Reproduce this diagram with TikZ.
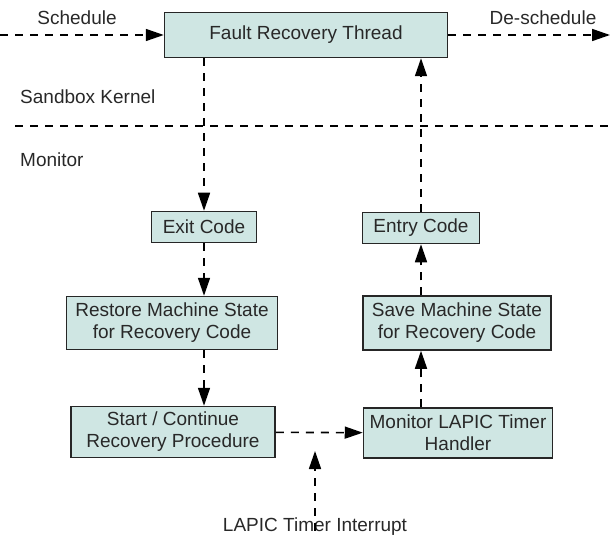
\documentclass[tikz,border=0pt]{standalone}
\usepackage{fontspec}
\setmainfont{Liberation Sans}
\usetikzlibrary{arrows.meta}
\definecolor{boxfill}{RGB}{207,230,227}
\definecolor{txt}{RGB}{40,40,40}

\begin{document}
\begin{tikzpicture}[x=1pt,y=-1pt,font=\fontsize{19}{22}\selectfont,text=txt]
        \tikzset{block/.style = {shape=rectangle,draw=black!85,fill=boxfill,line width=1.5pt,align=center,inner sep=2pt}};
        \tikzset{edge/.style = {-{Triangle[length=18pt,width=12pt]},line width=1.6pt,dash pattern=on 8pt off 7pt}};
        \tikzset{plain/.style = {inner sep=0pt}};
        \useasboundingbox (0,0) rectangle (610,540);
        \node[block,minimum width=283pt,minimum height=45pt] (frt) at (306,35) {Fault Recovery Thread};
        \node[block,minimum width=105pt,minimum height=31pt] (exit) at (204,227) {Exit Code};
        \node[block,minimum width=117pt,minimum height=31pt] (entry) at (421,228) {Entry Code};
        \node[block,minimum width=211pt,minimum height=53pt] (restore) at (172,323) {Restore Machine State\\for Recovery Code};
        \node[block,minimum width=188pt,minimum height=54pt] (save) at (457,323) {Save Machine State\\for Recovery Code};
        \node[block,minimum width=204pt,minimum height=51pt] (start) at (173,432) {Start / Continue\\Recovery Procedure};
        \node[block,minimum width=189pt,minimum height=50pt] (handler) at (458,433) {Monitor LAPIC Timer\\Handler};
        \node[plain] (sched) at (77,18) {Schedule};
        \node[plain] (desched) at (543,18) {De-schedule};
        \node[plain,anchor=west] (kernel) at (20,97) {Sandbox Kernel};
        \node[plain,anchor=west] (monitor) at (20,160) {Monitor};
        \node[plain] (irq) at (315,527) {LAPIC Timer Interrupt};
        \coordinate (in) at (0,35);
        \coordinate (out) at (610,35);
        \coordinate (sepl) at (15,126);
        \coordinate (sepr) at (610,126);
        \coordinate (irqtip) at (315,451);
        \draw[edge] (in) -- (frt);
        \draw[edge] (frt) -- (out);
        \draw[line width=1.6pt,dash pattern=on 8pt off 7pt] (sepl) -- (sepr);
        \draw[edge] (frt.south -| exit) -- (exit);
        \draw[edge] (exit) -- (restore.north -| exit);
        \draw[edge] (restore.south -| exit) -- (start.north -| exit);
        \draw[edge] (start) -- (handler);
        \draw[edge] (handler.north -| entry) -- (save.south -| entry);
        \draw[edge] (save.north -| entry) -- (entry);
        \draw[edge] (entry) -- (frt.south -| entry);
        \draw[edge] ([yshift=-13pt]irq.north) -- (irqtip);
    \end{tikzpicture}
\end{document}
